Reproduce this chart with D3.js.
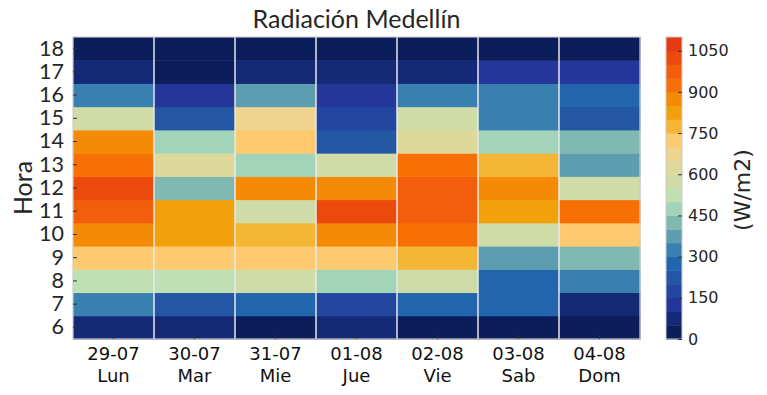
<!DOCTYPE html>
<html>
<head>
<meta charset="utf-8">
<script src="https://cdn.jsdelivr.net/npm/d3@7"></script>
<style>
  html, body { margin: 0; padding: 0; background: #fff; }
  #chart { width: 767px; height: 395px; }
</style>
</head>
<body>
<div id="chart"></div>
<script>
// data
var fechas = ['29-07', '30-07', '31-07', '01-08', '02-08', '03-08', '04-08'];
var dias = ['Lun', 'Mar', 'Mie', 'Jue', 'Vie', 'Sab', 'Dom'];
var horas = [6, 7, 8, 9, 10, 11, 12, 13, 14, 15, 16, 17, 18];

// W/m2 per hour (6..18) for each day
var lun = [75, 320, 520, 720, 870, 970, 1020, 920, 870, 570, 320, 75, 20];
var mar = [75, 220, 520, 720, 820, 820, 420, 620, 470, 220, 120, 20, 20];
var mie = [20, 270, 570, 720, 770, 570, 870, 470, 720, 670, 370, 75, 20];
var jue = [75, 170, 470, 720, 870, 1020, 870, 570, 220, 170, 120, 75, 20];
var vie = [20, 270, 570, 770, 920, 970, 970, 920, 620, 570, 320, 75, 20];
var sab = [20, 270, 270, 370, 570, 820, 870, 770, 470, 320, 320, 120, 20];
var dom = [20, 75, 320, 420, 720, 920, 570, 370, 420, 220, 270, 120, 20];
var radiacion = [lun, mar, mie, jue, vie, sab, dom];

var cbTicks = [0, 150, 300, 450, 600, 750, 900, 1050];

// 22 bins of 50 W/m2, low to high
var binColors = [
  '#0b1d5b', '#142a77', '#24369a', '#2346a0', '#2356a3', '#2166ac',
  '#3980b0', '#5c9db0', '#80b8b2', '#a1d4b9', '#bfe0b2', '#cfdca8',
  '#ddd99a', '#efd48f', '#fdca70', '#f5b535', '#f2a10c', '#f58a07',
  '#f67005', '#f25e0b', '#ec4a0c', '#e53a12'
];

var width = 767, height = 395;
var margin = { left: 73, top: 37, right: 127, bottom: 56 };
var plotW = width - margin.left - margin.right,
  plotH = height - margin.top - margin.bottom;

var svg = d3.select('#chart')
  .append('svg')
  .attr('width', width)
  .attr('height', height);

var color = d3.scaleQuantize()
  .domain([0, 1100])
  .range(binColors);

var x = d3.scaleBand()
  .domain(d3.range(fechas.length))
  .range([margin.left, margin.left + plotW]);

var y = d3.scaleBand()
  .domain(horas)
  .range([margin.top + plotH, margin.top]);

// cells
var cells = [];
radiacion.forEach(function(serie, i) {
  serie.forEach(function(v, j) {
    cells.push({ dia: i, hora: horas[j], v: v });
  });
});

svg.append('g')
  .selectAll('rect')
  .data(cells)
  .enter()
  .append('rect')
  .attr('x', function(d) { return x(d.dia); })
  .attr('y', function(d) { return y(d.hora); })
  .attr('width', x.bandwidth() + 0.5)
  .attr('height', y.bandwidth() + 0.5)
  .attr('fill', function(d) { return color(d.v); });

// white column lines
svg.append('g')
  .selectAll('line')
  .data(d3.range(1, fechas.length))
  .enter()
  .append('line')
  .attr('x1', function(d) { return x(d); })
  .attr('x2', function(d) { return x(d); })
  .attr('y1', margin.top)
  .attr('y2', margin.top + plotH)
  .attr('stroke', '#e8e8e8')
  .attr('stroke-width', 1.5);

svg.append('rect')
  .attr('x', margin.left)
  .attr('y', margin.top)
  .attr('width', plotW)
  .attr('height', plotH)
  .attr('fill', 'none')
  .attr('stroke', '#cccccc')
  .attr('stroke-width', 1.2);

// y axis (ticks inward)
var yAxis = svg.append('g')
  .attr('transform', 'translate(' + margin.left + ',0)')
  .call(d3.axisLeft(y).tickSize(-4).tickPadding(9));
yAxis.select('.domain').remove();
yAxis.selectAll('line').attr('stroke', '#333');
yAxis.selectAll('text')
  .attr('font-family', 'Lato, sans-serif')
  .attr('font-size', 21.5)
  .attr('fill', '#262626');

// x axis (ticks inward, two-line labels)
var xAxis = svg.append('g')
  .attr('transform', 'translate(0,' + (margin.top + plotH) + ')')
  .call(d3.axisBottom(x).tickSize(-4).tickFormat(''));
xAxis.select('.domain').remove();
xAxis.selectAll('line').attr('stroke', '#333');
xAxis.selectAll('.tick').each(function(d) {
  var t = d3.select(this).append('text')
    .attr('fill', '#111')
    .attr('font-family', 'DejaVu Sans, sans-serif')
    .attr('font-size', 18)
    .attr('text-anchor', 'middle');
  t.append('tspan').attr('x', 0).attr('y', 21).text(fechas[d]);
  t.append('tspan').attr('x', 0).attr('y', 43).text(dias[d]);
});

// title and y label
svg.append('text')
  .attr('x', margin.left + plotW / 2)
  .attr('y', 28)
  .attr('text-anchor', 'middle')
  .attr('font-family', 'Lato, sans-serif')
  .attr('font-size', 25)
  .attr('fill', '#262626')
  .text('Radiación Medellín');

svg.append('text')
  .attr('transform', 'translate(32,' + (margin.top + plotH / 2) + ') rotate(-90)')
  .attr('text-anchor', 'middle')
  .attr('font-family', 'Lato, sans-serif')
  .attr('font-size', 25)
  .attr('fill', '#262626')
  .text('Hora');

// colorbar
var cbX = 666, cbW = 16;
var cbY = d3.scaleLinear()
  .domain([0, 1100])
  .range([margin.top + plotH, margin.top]);

var cb = svg.append('g');
cb.selectAll('rect')
  .data(binColors)
  .enter()
  .append('rect')
  .attr('x', cbX)
  .attr('y', function(d, i) { return cbY((i + 1) * 50); })
  .attr('width', cbW)
  .attr('height', cbY(0) - cbY(50) + 0.5)
  .attr('fill', function(d) { return d; });

cb.append('rect')
  .attr('x', cbX)
  .attr('y', margin.top)
  .attr('width', cbW)
  .attr('height', plotH)
  .attr('fill', 'none')
  .attr('stroke', '#cccccc')
  .attr('stroke-width', 1);

var cbAxis = svg.append('g')
  .attr('transform', 'translate(' + (cbX + cbW) + ',0)')
  .call(d3.axisRight(cbY).tickValues(cbTicks).tickFormat(d3.format('d'))
    .tickSize(-4).tickPadding(6));
cbAxis.select('.domain').remove();
cbAxis.selectAll('line').attr('stroke', '#333');
cbAxis.selectAll('text')
  .attr('font-family', 'DejaVu Sans, sans-serif')
  .attr('font-size', 16)
  .attr('fill', '#262626');

svg.append('text')
  .attr('transform', 'translate(742,' + (margin.top + plotH / 2 + 2) + ') rotate(-90)')
  .attr('text-anchor', 'middle')
  .attr('dy', '0.35em')
  .attr('font-family', 'DejaVu Sans, sans-serif')
  .attr('font-size', 22)
  .attr('fill', '#262626')
  .text('(W/m2)');
</script>
</body>
</html>
